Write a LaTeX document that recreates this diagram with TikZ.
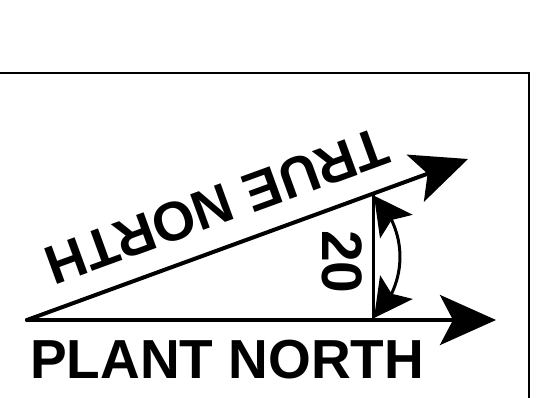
\documentclass[tikz,border=0pt]{standalone}
\usepackage{fontspec}
\setmainfont{Liberation Sans}
\usetikzlibrary{arrows.meta,bending}
\begin{document}
\begin{tikzpicture}[x=1pt,y=-1pt,
  lbl/.style={font=\fontsize{55}{55}\selectfont\bfseries, inner sep=0pt},
  ray/.style={line width=4pt, line cap=round,
    -{Stealth[length=56pt,width=50pt,inset=13pt]}},
  frame/.style={line width=2.5pt},
  angarc/.style={line width=3pt,
    {Stealth[length=38pt,width=40pt,inset=8pt,flex=1]}-{Stealth[length=38pt,width=40pt,inset=8pt,flex=1]}}]
\useasboundingbox (0,0) rectangle (557,398);
% frame
\coordinate (F1) at (-5,73);
\coordinate (F2) at (529,73);
\coordinate (F3) at (529,405);
\draw[frame] (F1) -- (F2) -- (F3);
% points
\coordinate (O) at (27,320);
\coordinate (PN) at (496,320);
\coordinate (TN) at (468,159);
\coordinate (V) at (373,320);
\coordinate (W) at (373,194.1);
\coordinate (A1) at (374,318);
% rays
\draw[ray] (O) -- (PN);
\draw[ray] (O) -- (TN);
\draw[line width=3pt] (V) -- (W);
\draw[angarc] (A1) arc[start angle=46, end angle=-46, radius=85];
% labels
\node[lbl, anchor=base west] (plant) at (30,378) {PLANT NORTH};
\node[lbl, rotate=200] (true) at (217,206) {TRUE NORTH};
\node[lbl, rotate=-90, font=\fontsize{57}{57}\selectfont\bfseries] (ang) at (342,262) {20};
\end{tikzpicture}
\end{document}
